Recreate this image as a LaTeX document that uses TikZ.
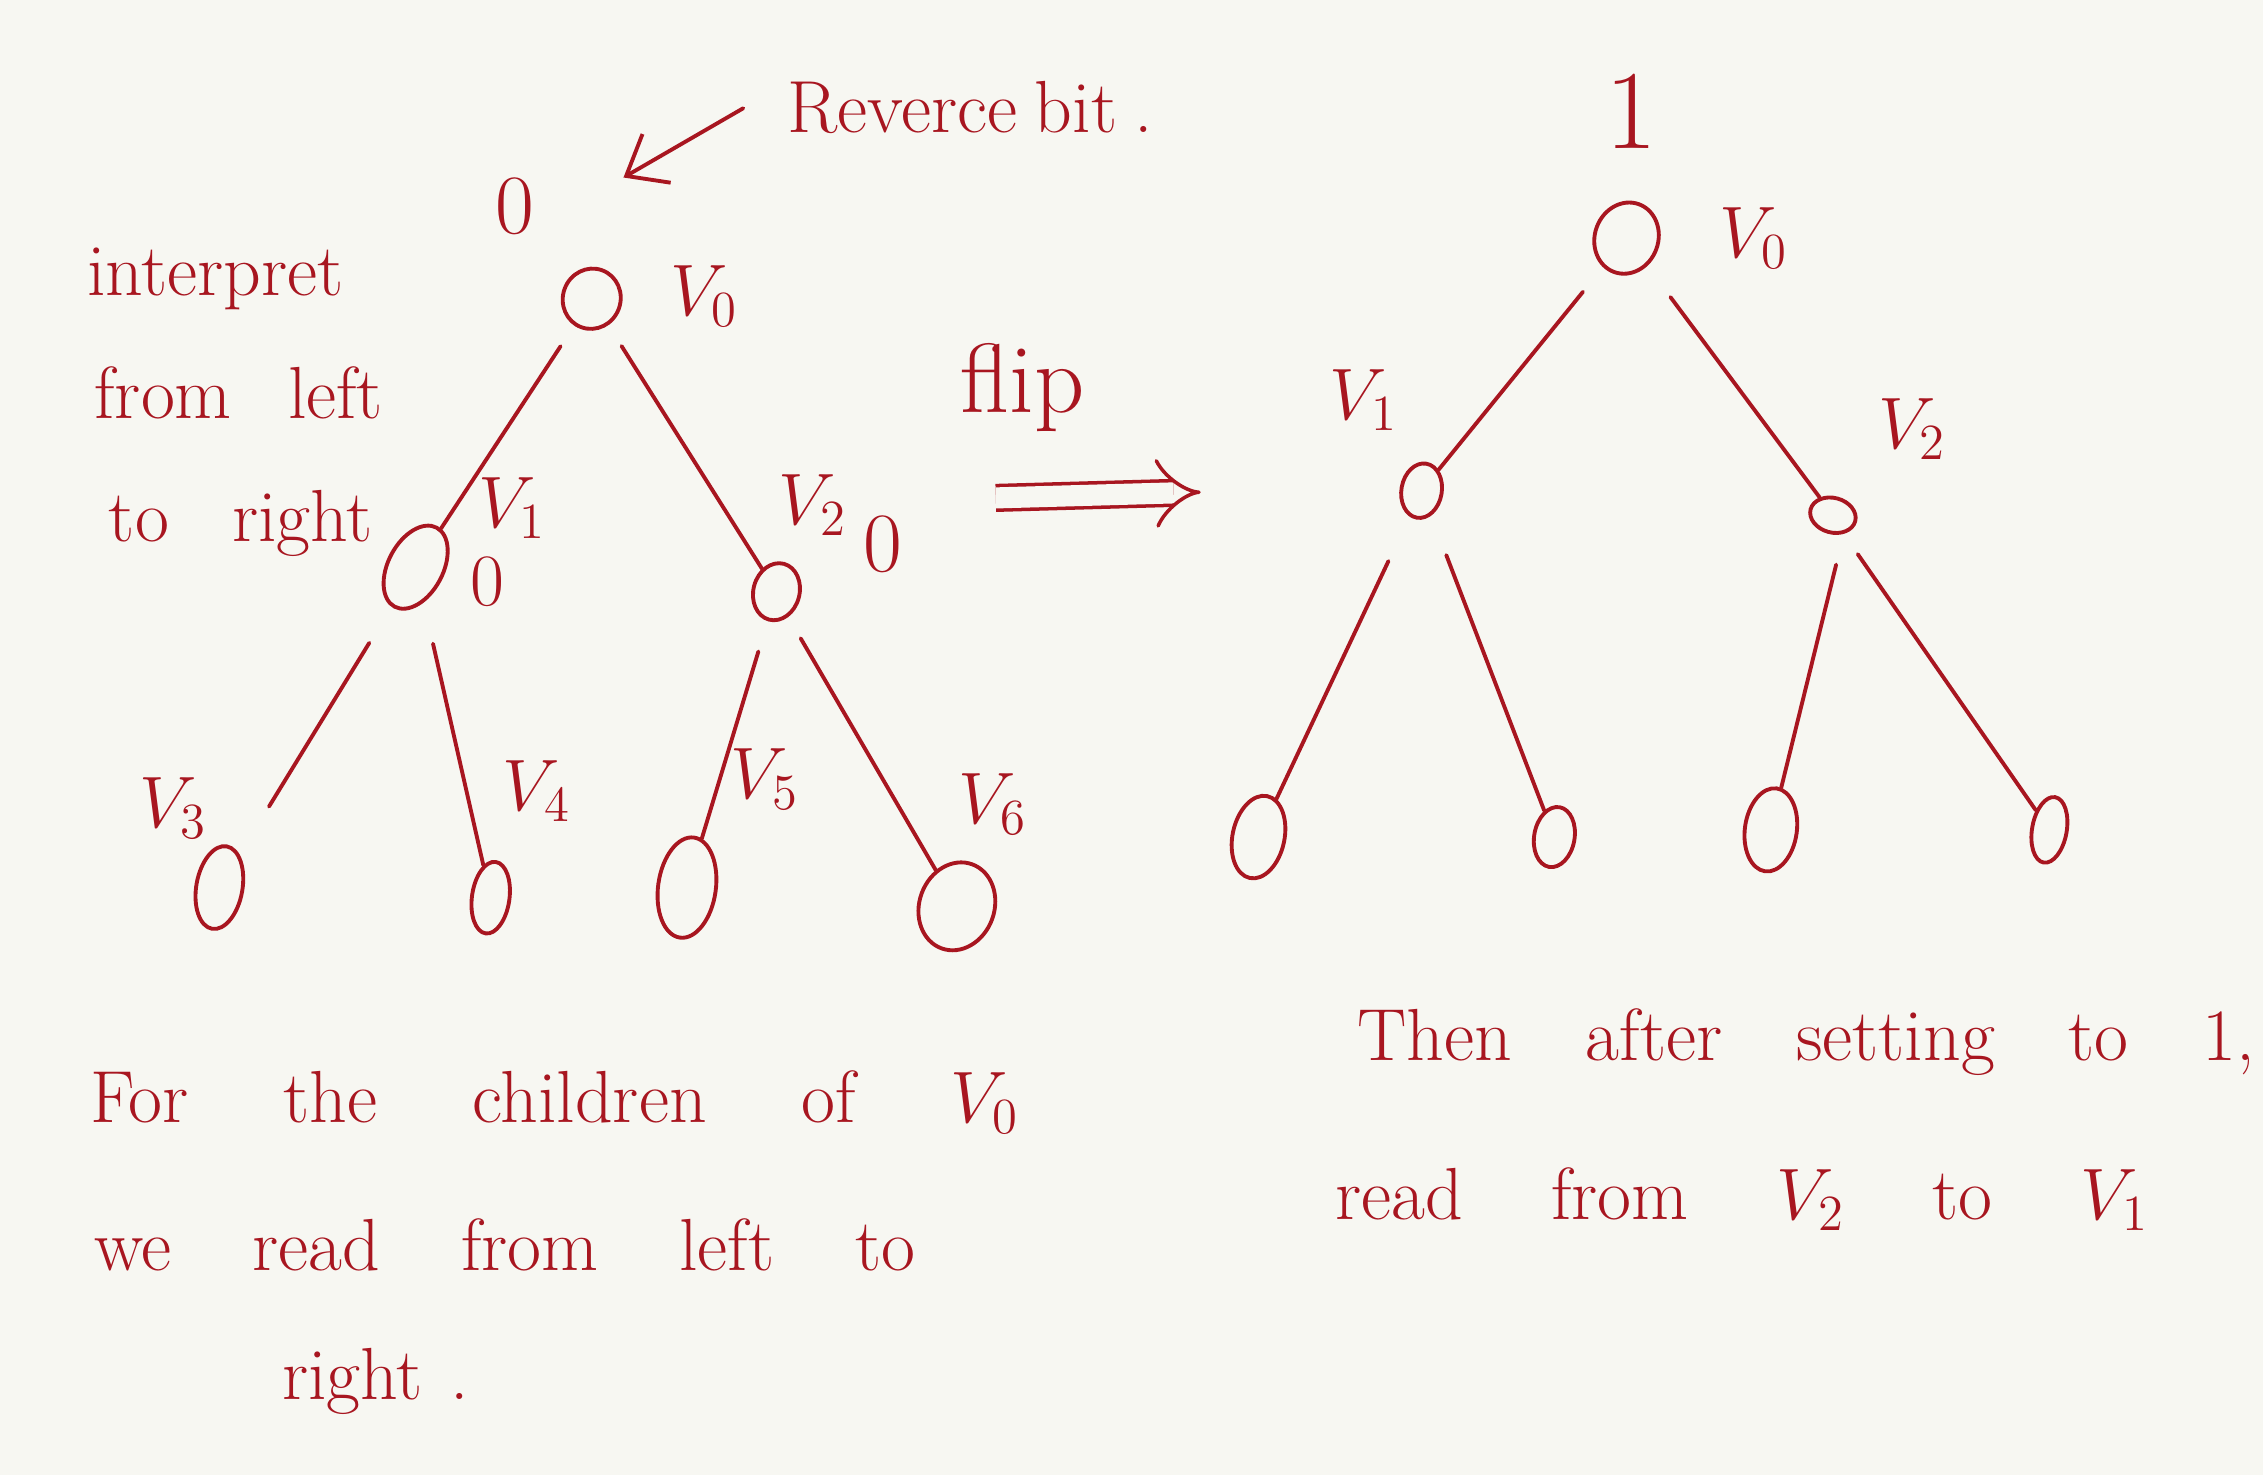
\documentclass[tikz,border=0pt]{standalone}
\usepackage{amsmath}
\usepackage{tikz}
\usetikzlibrary{arrows.meta,positioning,shapes.geometric}
\definecolor{InkRed}{RGB}{168,22,32}
\definecolor{PaperWhite}{RGB}{247,247,242}
\newlength{\pxu}
\setlength{\pxu}{0.1443mm}
\newcommand{\hand}{\fontsize{21}{25}\selectfont}

\begin{document}
\begin{tikzpicture}[
  x=0.1443mm, y=-0.1443mm,
  vert/.style={ellipse, draw=InkRed, line width=1.1pt, inner sep=0pt},
  branch/.style={draw=InkRed, line width=1.1pt, line cap=round, shorten <=7pt},
  vlabel/.style={text=InkRed, font=\hand, inner sep=0pt},
  note/.style={text=InkRed, font=\hand, anchor=base west, inner sep=0pt},
  bit/.style={text=InkRed, font=\fontsize{24}{28}\selectfont, inner sep=0pt},
  pointer/.style={draw=InkRed, line width=1.1pt, line cap=round, -{Straight Barb[length=10pt,width=16pt]}}
]

  \fill[PaperWhite] (0,0) rectangle (1568,1022);
  \useasboundingbox (0,0) rectangle (1568,1022);

  % left tree, before the flip
  \node[bit] (lbit) at (357,143) {0};
  \node[vert, minimum width=40\pxu, minimum height=42\pxu, rotate=-20] (lv0) at (410,207) {};
  \node[vert, minimum width=38\pxu, minimum height=62\pxu, rotate=-28] (lv1) at (288,393) {};
  \node[vert, minimum width=32\pxu, minimum height=40\pxu, rotate=-15] (lv2) at (538,410) {};
  \node[vert, minimum width=32\pxu, minimum height=58\pxu, rotate=-10] (lv3) at (152,615) {};
  \node[vert, minimum width=26\pxu, minimum height=50\pxu, rotate=-8] (lv4) at (340,622) {};
  \node[vert, minimum width=40\pxu, minimum height=70\pxu, rotate=-8] (lv5) at (476,615) {};
  \node[vert, minimum width=52\pxu, minimum height=62\pxu, rotate=-20] (lv6) at (663,628) {};

  \node[vlabel] (lv0tag) at (488,205) {$V_0$};
  \node[vlabel] (lv1tag) at (355,352) {$V_1$};
  \node[vlabel] (lv2tag) at (563,350) {$V_2$};
  \node[vlabel] (lv3tag) at (120,560) {$V_3$};
  \node[vlabel] (lv4tag) at (372,548) {$V_4$};
  \node[vlabel] (lv5tag) at (530,540) {$V_5$};
  \node[vlabel] (lv6tag) at (688,557) {$V_6$};
  \node[bit, font=\hand] (lbit1) at (338,403) {0};
  \node[bit] (lbit2) at (612,377) {0};

  \draw[branch] (lv0) -- (lv1);
  \draw[branch] (lv0) -- (lv2);
  \draw[branch, shorten <=12pt, shorten >=16pt] (lv1) -- (lv3);
  \draw[branch, shorten <=12pt] (lv1) -- (lv4);
  \draw[branch, shorten <=9pt] (lv2) -- (lv5);
  \draw[branch, shorten <=7pt] (lv2.-50) -- (lv6);

  % pointer to the reverse bit
  \node[note] (revnote) at (545,92) {\spaceskip=5pt Reverce bit .};
  \coordinate (revtail) at (515,75);
  \coordinate (revtip) at (432,123);
  \draw[pointer] (revtail) -- (revtip);

  % text on the left
  \node[note] (interp) at (60,205) {interpret};
  \node[note] (fromleft) at (65,290) {\spaceskip=16pt from left};
  \node[note] (toright) at (75,375) {\spaceskip=18pt to right};

  \node[note] (forline) at (62,778) {\spaceskip=27pt For the children of $V_0$};
  \node[note] (weline) at (65,880) {\spaceskip=23pt we read from left to};
  \node[note] (rightline) at (195,970) {\spaceskip=8pt right .};

  % flip arrow
  \node[note, font=\fontsize{28}{32}\selectfont] (fliplabel) at (665,286) {flip};
  \coordinate (flipfrom) at (690,345);
  \coordinate (flipto) at (832,341);
  \draw[InkRed, line width=1pt, double=PaperWhite, double distance=6pt, -{Implies}] (flipfrom) -- (flipto);

  % right tree, after the flip
  \node[bit, font=\fontsize{32}{36}\selectfont] (rbit) at (1130,77) {1};
  \node[vert, minimum width=44\pxu, minimum height=50\pxu, rotate=-20] (rv0) at (1127,165) {};
  \node[vert, minimum width=28\pxu, minimum height=38\pxu, rotate=-10] (rv1) at (985,340) {};
  \node[vert, minimum width=32\pxu, minimum height=24\pxu, rotate=-15] (rv2) at (1270,357) {};
  \node[vert, minimum width=36\pxu, minimum height=58\pxu, rotate=-12] (rv3) at (872,580) {};
  \node[vert, minimum width=28\pxu, minimum height=42\pxu, rotate=-10] (rv4) at (1077,580) {};
  \node[vert, minimum width=36\pxu, minimum height=58\pxu, rotate=-8] (rv5) at (1227,575) {};
  \node[vert, minimum width=24\pxu, minimum height=46\pxu, rotate=-10] (rv6) at (1420,575) {};

  \node[vlabel] (rv0tag) at (1215,165) {$V_0$};
  \node[vlabel] (rv1tag) at (945,277) {$V_1$};
  \node[vlabel] (rv2tag) at (1325,297) {$V_2$};

  \draw[branch, shorten <=9pt] (rv0) -- (rv1);
  \draw[branch, shorten <=11pt] (rv0) -- (rv2);
  \draw[branch, shorten <=14pt] (rv1) -- (rv3);
  \draw[branch, shorten <=12pt] (rv1) -- (rv4);
  \draw[branch, shorten <=9pt] (rv2.-45) -- (rv5);
  \draw[branch, shorten <=7pt] (rv2.-45) -- (rv6);

  % text on the right
  \node[note] (thenline) at (940,735) {\spaceskip=21pt Then after setting to 1,};
  \node[note] (readline) at (925,845) {\spaceskip=25pt read from $V_2$ to $V_1$};

\end{tikzpicture}
\end{document}
